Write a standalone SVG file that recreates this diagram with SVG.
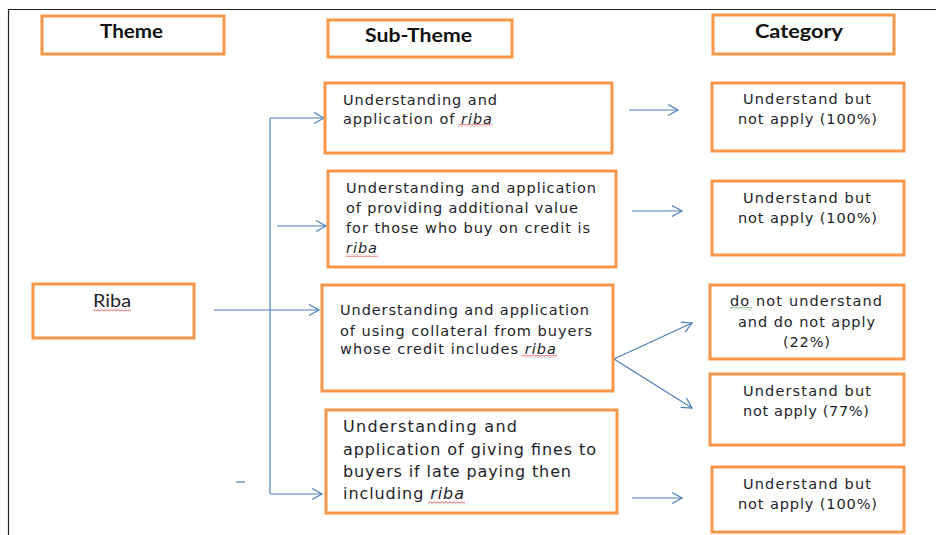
<svg xmlns="http://www.w3.org/2000/svg" width="936" height="535" viewBox="0 0 936 535">
  <defs>
    <style>
      .box { fill: #ffffff; stroke: #F79646; stroke-width: 3; }
      .head { font-family: Lato, "Liberation Sans", sans-serif; font-weight: bold; font-size: 19px; fill: #111111; }
      .body { font-family: "DejaVu Sans", Verdana, sans-serif; font-size: 14.5px; fill: #1e1e2a; }
      .big { font-family: "DejaVu Sans", Verdana, sans-serif; font-size: 16px; fill: #1e1e2a; }
      .plain { font-family: Lato, "Liberation Sans", sans-serif; font-size: 17px; fill: #1e1e2a; }
      .link { fill: none; stroke: #4A7EBB; stroke-width: 1.2; }
      .arrow { marker-end: url(#chevron); }
      .frame { fill: none; stroke: #222222; stroke-width: 1.2; }
    </style>
    <marker id="chevron" markerUnits="userSpaceOnUse" markerWidth="14" markerHeight="14" refX="11" refY="6" orient="auto">
      <path d="M1,0.5 L11,6 L1,11.5" fill="none" stroke="#4A7EBB" stroke-width="1.2"/>
    </marker>
    <pattern id="squiggle-red" patternUnits="userSpaceOnUse" width="4" height="3">
      <path d="M0,2.2 L2,0.8 L4,2.2" fill="none" stroke="#E23B3B" stroke-width="0.8"/>
    </pattern>
    <pattern id="squiggle-green" patternUnits="userSpaceOnUse" width="4" height="3">
      <path d="M0,2.2 L2,0.8 L4,2.2" fill="none" stroke="#3FA34D" stroke-width="0.8"/>
    </pattern>
  </defs>

  <!-- page frame -->
  <path class="frame" d="M8.5,535 V9.5 H936"/>

  <!-- connectors -->
  <g id="connectors">
    <path class="link arrow" d="M214,310 H319"/>
    <path class="link" d="M270,118 V494"/>
    <path class="link arrow" d="M270,118 H324"/>
    <path class="link arrow" d="M277,226 H326"/>
    <path class="link arrow" d="M270,494 H322"/>
    <path class="link" d="M236,482 H245"/>
    <path class="link arrow" d="M629,110 H678"/>
    <path class="link arrow" d="M632,211 H682"/>
    <path class="link arrow" d="M614,359 L692,323"/>
    <path class="link arrow" d="M614,359 L692,408"/>
    <path class="link arrow" d="M632,498 H682"/>
  </g>

  <!-- column headers -->
  <g id="header-theme">
    <rect class="box" x="42" y="16" width="182" height="38"/>
    <text class="head" x="100" y="38" textLength="63" lengthAdjust="spacingAndGlyphs">Theme</text>
  </g>
  <g id="header-subtheme">
    <rect class="box" x="328" y="20" width="184" height="37"/>
    <text class="head" x="365" y="42" textLength="107" lengthAdjust="spacingAndGlyphs">Sub-Theme</text>
  </g>
  <g id="header-category">
    <rect class="box" x="713" y="15" width="181" height="39"/>
    <text class="head" x="755" y="38" textLength="88" lengthAdjust="spacingAndGlyphs">Category</text>
  </g>

  <!-- theme -->
  <g id="theme-riba">
    <rect class="box" x="33" y="284" width="161" height="54"/>
    <text class="plain" x="93" y="307" textLength="38" lengthAdjust="spacingAndGlyphs">Riba</text>
    <rect x="93" y="308.5" width="38" height="3" fill="url(#squiggle-red)"/>
  </g>

  <!-- sub-themes -->
  <g id="sub-1">
    <rect class="box" x="325" y="83" width="287" height="70"/>
    <text class="body" x="343" y="105" textLength="154" lengthAdjust="spacing">Understanding and</text>
    <text class="body" x="343" y="124" textLength="149" lengthAdjust="spacing">application of <tspan font-style="italic">riba</tspan></text>
    <rect x="458" y="124" width="34" height="3" fill="url(#squiggle-red)"/>
  </g>
  <g id="sub-2">
    <rect class="box" x="328" y="171" width="288" height="96"/>
    <text class="body" x="346" y="193" textLength="250" lengthAdjust="spacing">Understanding and application</text>
    <text class="body" x="346" y="213" textLength="232" lengthAdjust="spacing">of providing additional value</text>
    <text class="body" x="346" y="233" textLength="244" lengthAdjust="spacing">for those who buy on credit is</text>
    <text class="body" x="346" y="253" textLength="31" lengthAdjust="spacing" font-style="italic">riba</text>
    <rect x="346" y="254" width="32" height="3" fill="url(#squiggle-red)"/>
  </g>
  <g id="sub-3">
    <rect class="box" x="322" y="285" width="291" height="106"/>
    <text class="body" x="340" y="315" textLength="249" lengthAdjust="spacing">Understanding and application</text>
    <text class="body" x="340" y="336" textLength="252" lengthAdjust="spacing">of using collateral from buyers</text>
    <text class="body" x="340" y="354" textLength="216" lengthAdjust="spacing">whose credit includes <tspan font-style="italic">riba</tspan></text>
    <rect x="522" y="355" width="35" height="3" fill="url(#squiggle-red)"/>
  </g>
  <g id="sub-4">
    <rect class="box" x="326" y="410" width="291" height="103"/>
    <text class="big" x="343" y="432" textLength="174" lengthAdjust="spacing">Understanding and</text>
    <text class="big" x="343" y="455" textLength="253" lengthAdjust="spacing">application of giving fines to</text>
    <text class="big" x="343" y="477" textLength="228" lengthAdjust="spacing">buyers if late paying then</text>
    <text class="big" x="343" y="499" textLength="121" lengthAdjust="spacing">including <tspan font-style="italic">riba</tspan></text>
    <rect x="428" y="501" width="37" height="3" fill="url(#squiggle-red)"/>
  </g>

  <!-- categories -->
  <g id="cat-1">
    <rect class="box" x="712" y="83" width="192" height="68"/>
    <text class="body" x="743" y="104" textLength="128" lengthAdjust="spacing">Understand but</text>
    <text class="body" x="738" y="124" textLength="139" lengthAdjust="spacing">not apply (100%)</text>
  </g>
  <g id="cat-2">
    <rect class="box" x="712" y="181" width="192" height="74"/>
    <text class="body" x="743" y="203" textLength="128" lengthAdjust="spacing">Understand but</text>
    <text class="body" x="738" y="223" textLength="139" lengthAdjust="spacing">not apply (100%)</text>
  </g>
  <g id="cat-3a">
    <rect class="box" x="710" y="285" width="194" height="74"/>
    <text class="body" x="730" y="306" textLength="152" lengthAdjust="spacing">do not understand</text>
    <text class="body" x="738" y="327" textLength="137" lengthAdjust="spacing">and do not apply</text>
    <text class="body" x="783" y="347" textLength="47" lengthAdjust="spacing">(22%)</text>
    <rect x="730" y="307" width="22" height="3" fill="url(#squiggle-green)"/>
  </g>
  <g id="cat-3b">
    <rect class="box" x="710" y="374" width="194" height="71"/>
    <text class="body" x="743" y="396" textLength="128" lengthAdjust="spacing">Understand but</text>
    <text class="body" x="743" y="416" textLength="126" lengthAdjust="spacing">not apply (77%)</text>
  </g>
  <g id="cat-4">
    <rect class="box" x="712" y="467" width="192" height="65"/>
    <text class="body" x="743" y="489" textLength="128" lengthAdjust="spacing">Understand but</text>
    <text class="body" x="738" y="509" textLength="139" lengthAdjust="spacing">not apply (100%)</text>
  </g>
</svg>
